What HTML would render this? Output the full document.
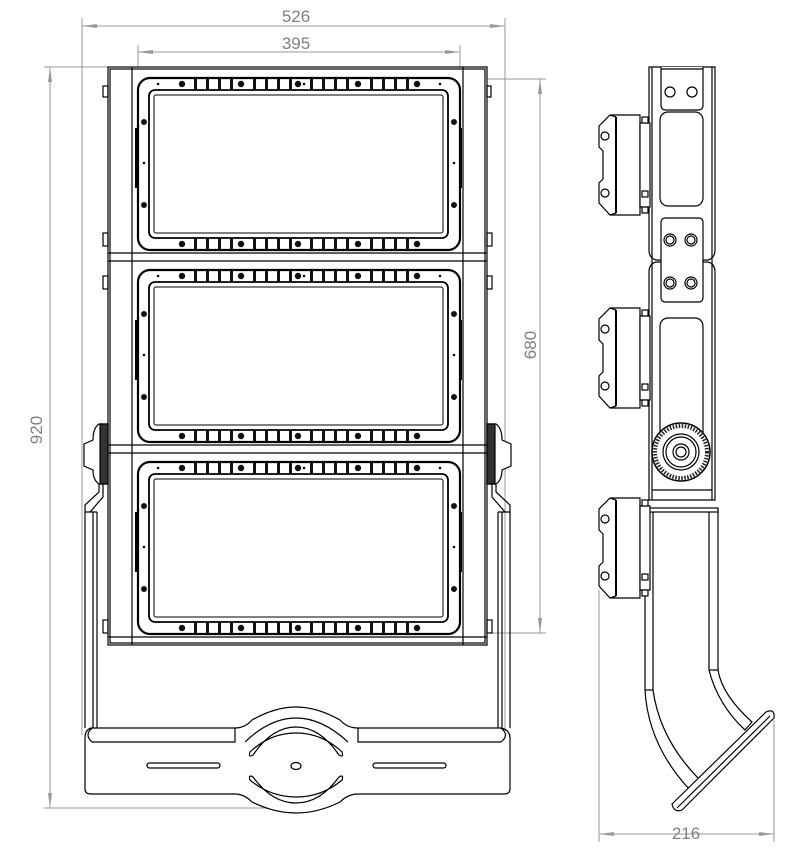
<!DOCTYPE html>
<html><head><meta charset="utf-8"><style>
html,body{margin:0;padding:0;background:#fff;}
svg{display:block;}
text{font-family:"Liberation Sans",sans-serif;fill:#808080;font-size:17px;}
</style></head><body>
<svg width="807" height="855" viewBox="0 0 807 855" xmlns="http://www.w3.org/2000/svg">
<defs>
<g id="ribs">
<rect x="56" width="3" height="11"/><rect x="68" width="3" height="11"/><rect x="80" width="3" height="11"/><rect x="92" width="3" height="11"/>
<rect x="115" width="3" height="11"/><rect x="127" width="3" height="11"/><rect x="139" width="3" height="11"/><rect x="151" width="3" height="11"/>
<rect x="172" width="3" height="11"/><rect x="184" width="3" height="11"/><rect x="196" width="3" height="11"/><rect x="208" width="3" height="11"/>
<rect x="232" width="3" height="11"/><rect x="244" width="3" height="11"/><rect x="256" width="3" height="11"/><rect x="268" width="3" height="11"/>
</g>
<g id="screws">
<circle cx="44" r="3.2"/><circle cx="103" r="3.2"/><circle cx="160" r="3.2"/><circle cx="220" r="3.2"/><circle cx="279" r="3.2"/>
</g>
<g id="module">
<rect x="0" y="0" width="322" height="172" rx="12" fill="#fff" stroke="#000" stroke-width="2.2"/>
<rect x="11" y="12" width="299" height="148" rx="6" fill="none" stroke="#000" stroke-width="1.8"/>
<rect x="16" y="17" width="289" height="138" rx="2" fill="none" stroke="#000" stroke-width="1"/>
<g fill="#111"><use href="#ribs" y="1"/><use href="#ribs" y="160"/>
<use href="#screws" y="6"/><use href="#screws" y="166"/>
<circle cx="6" cy="44" r="3"/><circle cx="6" cy="127" r="3"/><circle cx="316" cy="44" r="3"/><circle cx="316" cy="127" r="3"/>
<circle cx="20" cy="6" r="1.3"/><circle cx="166" cy="6" r="1.3"/><circle cx="302" cy="6" r="1.3"/>
<circle cx="6" cy="85" r="1.3"/><circle cx="316" cy="85" r="1.3"/></g>
<rect x="-3" y="50" width="3" height="60" fill="#000"/>
<rect x="322" y="50" width="2" height="60" fill="#000"/>
</g>
<g id="lamp" fill="#fff" stroke="#000" stroke-width="1.2">
<polygon points="640,0 610,0 599,11 599,32 603,36 603,64 599,68 599,88 610,100 640,100"/>
<line x1="616" y1="2" x2="616" y2="98" stroke-width="2"/>
<line x1="610" y1="0" x2="616" y2="2"/><line x1="610" y1="100" x2="616" y2="98"/>
<rect x="640" y="8" width="10" height="84"/>
<rect x="642" y="2" width="6" height="6"/><rect x="642" y="92" width="6" height="6"/><rect x="642" y="76" width="6" height="6"/>
<circle cx="605" cy="21" r="4"/><circle cx="605" cy="78" r="4"/>
</g>
</defs>

<!-- dimension lines -->
<g stroke="#999" stroke-width="1" fill="none">
<line x1="82" y1="18" x2="82" y2="735"/><line x1="505" y1="18" x2="505" y2="735"/>
<line x1="82" y1="26" x2="505" y2="26"/>
<line x1="138" y1="45" x2="138" y2="90"/><line x1="460" y1="45" x2="460" y2="82"/>
<line x1="138" y1="52" x2="460" y2="52"/>
<line x1="44" y1="67" x2="140" y2="67"/><line x1="44" y1="808" x2="300" y2="808"/>
<line x1="50" y1="67" x2="50" y2="808"/>
<line x1="460" y1="79" x2="546" y2="79"/><line x1="460" y1="633" x2="546" y2="633"/>
<line x1="540" y1="79" x2="540" y2="633"/>
<line x1="599" y1="590" x2="599" y2="842"/><line x1="774" y1="720" x2="774" y2="842"/>
<line x1="599" y1="834" x2="774" y2="834"/>
</g>
<g fill="#999">
<polygon points="82,26 97,24 97,28"/><polygon points="505,26 490,24 490,28"/>
<polygon points="138,52 153,50 153,54"/><polygon points="460,52 445,50 445,54"/>
<polygon points="50,67 48,82 52,82"/><polygon points="50,808 48,793 52,793"/>
<polygon points="540,79 538,94 542,94"/><polygon points="540,633 538,618 542,618"/>
<polygon points="599,834 614,832 614,836"/><polygon points="774,834 759,832 759,836"/>
</g>
<text x="296" y="22" text-anchor="middle">526</text>
<text x="296" y="49" text-anchor="middle">395</text>
<text x="686" y="839" text-anchor="middle">216</text>
<text transform="translate(42,430) rotate(-90)" text-anchor="middle">920</text>
<text transform="translate(536,345) rotate(-90)" text-anchor="middle">680</text>

<!-- FRONT VIEW -->
<g stroke="#000" fill="none" stroke-width="1.2">
<!-- lower bracket -->
<path d="M85,512 L85,728 M93,512 L93,728 M97,512 L97,728 M85,512 L97,512"/>
<path d="M498,512 L498,728 M502,512 L502,728 M510,512 L510,728 M498,512 L510,512"/>
<path d="M91,728 L235,728 Q245,728 252,720 Q275,707 296,707 Q317,707 340,720 Q347,728 358,728 L501,728 Q510,730 510,738 L510,789 Q510,794 504,794 L358,794 Q348,794 340,802 Q318,813 296,813 Q274,813 252,802 Q244,794 235,794 L91,794 Q85,794 85,789 L85,738 Q85,730 91,728 Z" fill="#fff"/>
<path d="M92,742 L235,742 L235,728 M358,728 L358,742 L501,742"/>
<path d="M92,728 Q84,735 92,742 M501,728 Q510,735 501,742"/>
<path d="M245,742 Q270,718 296,718 Q322,718 348,742"/>
<path d="M253,755 Q272,727 296,727 Q320,727 339,755 Q344,758 342,752 Q322,733 296,733 Q270,733 250,752 Q248,758 253,755 Z"/>
<path d="M253,777 Q272,803 296,803 Q320,803 339,777 Q344,774 342,780 Q322,797 296,797 Q270,797 250,780 Q248,774 253,777 Z"/>
<rect x="147" y="763" width="73" height="5" rx="2.5"/>
<rect x="373" y="763" width="73" height="5" rx="2.5"/>
<ellipse cx="296" cy="766" rx="5" ry="3.5"/>
<!-- pivot arms -->
<path d="M85,512 L85,505 L99,492 L99,475 M90,512 L103,497 L103,475"/>
<path d="M510,512 L510,505 L496,492 L496,475 M505,512 L492,497 L492,475"/>
<!-- main frame -->
<rect x="108" y="67" width="379" height="578" fill="#fff"/>
<rect x="110" y="69" width="375" height="574"/>
<line x1="132" y1="67" x2="132" y2="645"/><line x1="463" y1="67" x2="463" y2="645"/>
<line x1="108" y1="253" x2="487" y2="253"/><line x1="108" y1="261" x2="487" y2="261"/>
<line x1="108" y1="445" x2="487" y2="445"/><line x1="108" y1="453" x2="487" y2="453" />
<line x1="108" y1="637" x2="487" y2="637"/>
<!-- tabs -->
<rect x="103" y="86" width="5" height="11"/><rect x="103" y="233" width="5" height="13"/><rect x="103" y="276" width="5" height="13"/><rect x="103" y="620" width="5" height="13"/>
<rect x="487" y="86" width="4" height="11"/><rect x="487" y="233" width="5" height="13"/><rect x="487" y="276" width="5" height="13"/><rect x="487" y="620" width="5" height="13"/>
</g>
<!-- knobs -->
<g stroke="#000" stroke-width="1.2" fill="#fff">
<path d="M108,424 L99,424 Q93,428 93,440 L84,444 L84,466 L93,470 Q93,480 99,484 L108,484 Z"/>
<rect x="100" y="424" width="8" height="60" fill="#333"/>
<path d="M487,424 L496,424 Q502,428 502,440 L511,444 L511,466 L502,470 Q502,480 496,484 L487,484 Z"/>
<rect x="487" y="424" width="8" height="60" fill="#333"/>
</g>
<use href="#module" x="138" y="78"/>
<use href="#module" x="138" y="270"/>
<use href="#module" x="138" y="462"/>

<!-- SIDE VIEW -->
<g stroke="#000" stroke-width="1.2" fill="#fff">
<!-- bracket -->
<path d="M645,510 L645,690 Q648,745 690,790 L700,780 Q660,740 653,690 L653,510 Z"/>
<path d="M709,510 L709,670 Q718,705 745,730 L752,722 Q722,695 718,670 L718,510 Z"/>
<rect x="645" y="508" width="73" height="4"/>
<line x1="645" y1="690" x2="653" y2="690"/><line x1="709" y1="670" x2="718" y2="670"/>
<path d="M672,804 L766,712 Q775,708 774,718 L682,810 Q674,813 672,804 Z"/>
<line x1="677" y1="808" x2="770" y2="716"/>
<!-- main bar -->
<path d="M649,67 L715,67 L715,250 Q715,258 708,260 L656,260 Q649,258 649,250 Z"/>
<path d="M649,272 Q649,264 656,262 L708,262 Q715,264 715,272 L715,500 L649,500 Z"/>
<line x1="652" y1="67" x2="652" y2="500"/><line x1="712" y1="67" x2="712" y2="500"/>
<line x1="652" y1="490" x2="712" y2="490"/>
<path d="M661,67 L661,105 Q661,110 666,110 L698,110 Q703,110 703,105 L703,67 M661,69 L703,69"/>
<circle cx="670" cy="92" r="5"/><circle cx="692" cy="92" r="5"/>
<rect x="660" y="112" width="43" height="94" rx="8"/>
<rect x="661" y="218" width="42" height="84" rx="4"/>
<circle cx="670" cy="240" r="6"/><circle cx="670" cy="240" r="4"/><circle cx="691" cy="240" r="6"/><circle cx="691" cy="240" r="4"/>
<circle cx="670" cy="283" r="6"/><circle cx="670" cy="283" r="4"/><circle cx="691" cy="283" r="6"/><circle cx="691" cy="283" r="4"/>
<rect x="660" y="318" width="43" height="130" rx="8"/>
<circle cx="681" cy="452" r="29" stroke-width="1.5"/>
<circle cx="681" cy="452" r="26" stroke="#222" stroke-width="4" stroke-dasharray="1.5 1.5" fill="none"/>
<circle cx="681" cy="452" r="18"/><circle cx="681" cy="452" r="15"/>
<circle cx="681" cy="452" r="8"/><circle cx="681" cy="452" r="5"/>
</g>
<use href="#lamp" y="115"/>
<use href="#lamp" y="308"/>
<use href="#lamp" y="498"/>
</svg>
</body></html>
